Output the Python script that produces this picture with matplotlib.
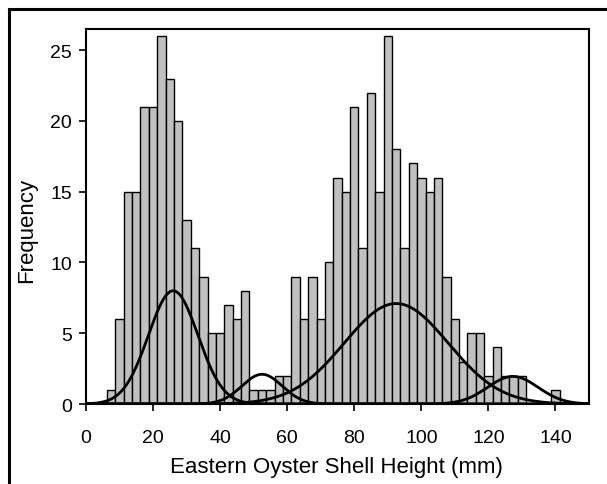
import numpy as np
import matplotlib
matplotlib.use("Agg")
import matplotlib.pyplot as plt
from matplotlib.lines import Line2D

plt.rcParams['font.family'] = ['Liberation Sans', 'DejaVu Sans']

# Histogram data (bin centers in mm, 2.5 mm bins)
bin_centers = [7.5, 10, 12.5, 15, 17.5, 20, 22.5, 25, 27.5, 30, 32.5, 35, 37.5, 40,
               42.5, 45, 47.5, 50, 52.5, 55, 57.5, 60, 62.5, 65, 67.5, 70, 72.5, 75,
               77.5, 80, 82.5, 85, 87.5, 90, 92.5, 95, 97.5, 100, 102.5, 105, 107.5,
               110, 112.5, 115, 117.5, 120, 122.5, 125, 127.5, 130, 132.5, 135, 137.5, 140]
counts = [1, 6, 15, 15, 21, 21, 26, 23, 20, 13, 11, 9, 5, 5,
          7, 6, 8, 1, 1, 1, 2, 2, 9, 6, 9, 6, 10, 16,
          15, 21, 11, 22, 15, 26, 18, 11, 17, 16, 15, 16, 9,
          6, 3, 5, 5, 2, 4, 2, 2, 2, 0, 0, 0, 1]
bin_width = 2.5

# Fitted normal components (mean, sd, peak height in frequency units)
comp_means = [26.0, 52.5, 92.5, 127.3]
comp_sds = [7.4, 6.0, 15.5, 7.5]
comp_peaks = [8.0, 2.1, 7.1, 1.95]

x_ticks = [0, 20, 40, 60, 80, 100, 120, 140]
y_ticks = [0, 5, 10, 15, 20, 25]

fig = plt.figure(figsize=(6.07, 4.85), dpi=100)
ax = fig.add_axes([86/607, 1-405/485, (589-86)/607, (405-30)/485])

ax.bar(bin_centers, counts, width=bin_width, color='#C0C0C0', edgecolor='black',
       linewidth=1.0, align='center', zorder=2)

xs = np.linspace(0, 150, 600)
for m, s, p in zip(comp_means, comp_sds, comp_peaks):
    ax.plot(xs, p*np.exp(-0.5*((xs-m)/s)**2), color='black', lw=2.0, zorder=3)

ax.set_xlim(0, 150)
ax.set_ylim(0, 26.5)
ax.set_xticks(x_ticks)
ax.set_yticks(y_ticks)
ax.tick_params(direction='out', length=5, width=1.2, labelsize=14, colors='black')
ax.tick_params(axis='x', pad=13)
ax.tick_params(axis='y', pad=5)
for sp in ax.spines.values():
    sp.set_linewidth(1.5)
ax.set_xlabel('Eastern Oyster Shell Height (mm)', fontsize=16)
ax.set_ylabel('Frequency', fontsize=16)
ax.xaxis.label.set_va('center')
ax.yaxis.label.set_va('center')
ax.xaxis.set_label_coords((336-86)/503, (405-467)/375)
ax.yaxis.set_label_coords((27-86)/503, 0.5 + (217.5-230)/375)

# outer frame lines (partially visible)
fig.add_artist(Line2D([9/607, 9/607], [0, 1-10/485], transform=fig.transFigure,
                      color='black', lw=2.2))
fig.add_artist(Line2D([9/607, 1], [1-10/485, 1-10/485], transform=fig.transFigure,
                      color='black', lw=2.2))

fig.savefig('out.png', dpi=100)
